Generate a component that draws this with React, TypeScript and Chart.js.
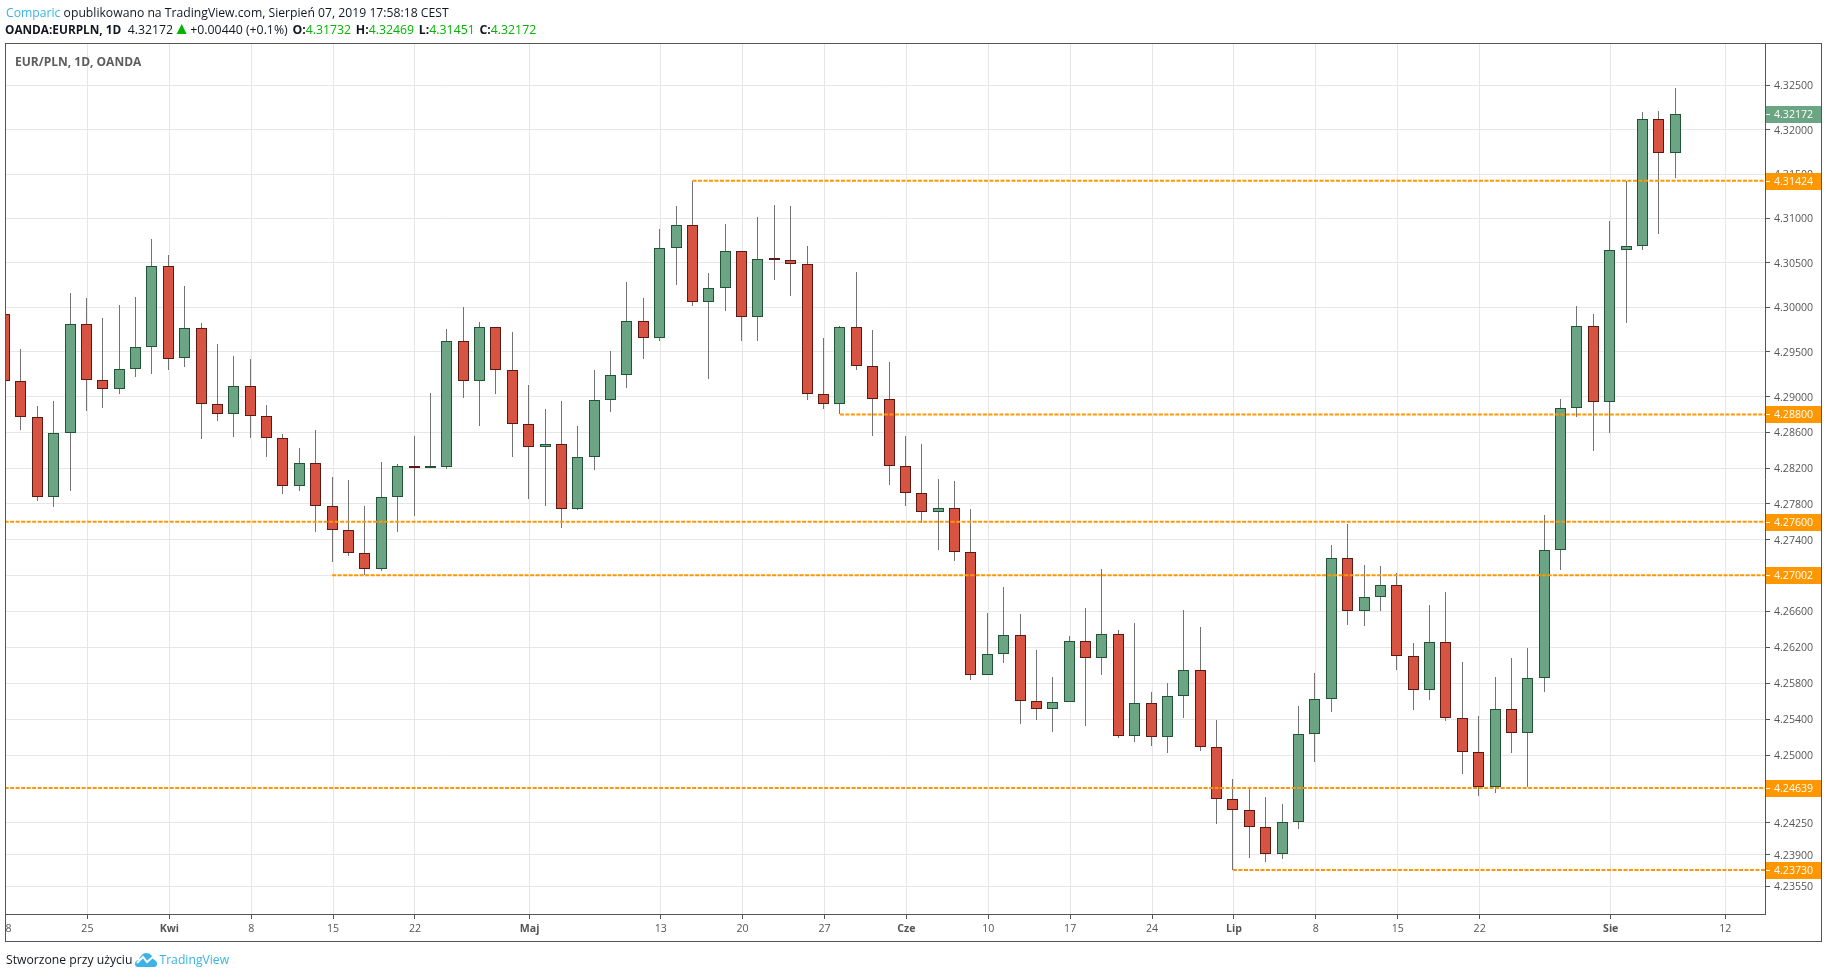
import { useEffect, useRef } from "react";
import { Chart, registerables } from "chart.js";
Chart.register(...registerables);

const FONT = '"Open Sans", sans-serif';
const UP = "#6ba583";
const DOWN = "#d75442";
const UP_BORDER = "#225437";
const DOWN_BORDER = "#5b1a13";
const WICK = "#737375";
const ORANGE = "#ff9800";
const FRAME = "#555555";

// daily bars, first one is 18 Mar 2019, last one is 7 Aug 2019
const opens = [
  4.29923, 4.29172, 4.28768, 4.27874, 4.2859, 4.2981, 4.29183, 4.29082, 4.29306, 4.29553,
  4.30462, 4.29429, 4.29766, 4.28914, 4.28802, 4.29115, 4.2878, 4.28534, 4.27997, 4.28254,
  4.27773, 4.27506, 4.27249, 4.2707, 4.27874, 4.2822, 4.28198, 4.28209, 4.2962, 4.29172,
  4.29777, 4.29295, 4.2869, 4.28433, 4.28466, 4.2774, 4.28321, 4.28959, 4.29239, 4.29844,
  4.29654, 4.30665, 4.30924, 4.30057, 4.30215, 4.30631, 4.29889, 4.30541, 4.3053, 4.30485,
  4.29026, 4.28914, 4.29777, 4.2934, 4.2897, 4.2822, 4.27918, 4.27706, 4.27751, 4.2726,
  4.2589, 4.26124, 4.26335, 4.25601, 4.25512, 4.2559, 4.26268, 4.26079, 4.26346, 4.25212,
  4.25579, 4.25201, 4.25657, 4.25945, 4.2509, 4.24513, 4.24391, 4.24203, 4.23904, 4.24258,
  4.25234, 4.25623, 4.27193, 4.26602, 4.26758, 4.26892, 4.26101, 4.25723, 4.26257, 4.25412,
  4.25034, 4.24646, 4.25512, 4.25246, 4.25857, 4.27282, 4.28869, 4.29788, 4.28936, 4.30642,
  4.30687, 4.32118, 4.31732,
];
const closes = [
  4.29172, 4.28768, 4.27874, 4.2859, 4.2981, 4.29183, 4.29082, 4.29306, 4.29553, 4.30462,
  4.29425, 4.29766, 4.28914, 4.28802, 4.29115, 4.2878, 4.28534, 4.27997, 4.28254, 4.27773,
  4.27506, 4.27249, 4.2707, 4.27874, 4.2822, 4.28198, 4.28209, 4.2962, 4.29172, 4.29777,
  4.29295, 4.2869, 4.28433, 4.28466, 4.2774, 4.28321, 4.28959, 4.29239, 4.29844, 4.29654,
  4.30665, 4.30924, 4.30057, 4.30215, 4.30631, 4.29889, 4.30541, 4.3053, 4.30485, 4.29026,
  4.28914, 4.29777, 4.2934, 4.2897, 4.2822, 4.27918, 4.27706, 4.27751, 4.2726, 4.2589,
  4.26124, 4.26335, 4.25601, 4.25512, 4.2559, 4.26268, 4.26079, 4.26346, 4.25212, 4.25579,
  4.25201, 4.25657, 4.25945, 4.2509, 4.24513, 4.24391, 4.24203, 4.23904, 4.24258, 4.25234,
  4.25623, 4.27193, 4.26602, 4.26758, 4.26892, 4.26101, 4.25723, 4.26257, 4.25412, 4.25034,
  4.24646, 4.25512, 4.25246, 4.25857, 4.27282, 4.28869, 4.29788, 4.28936, 4.30642, 4.30687,
  4.32118, 4.31732, 4.32172,
];
const highs = [
  4.2998, 4.2953, 4.28892, 4.28947, 4.30159, 4.30102, 4.29878, 4.30024, 4.30114, 4.30766,
  4.30586, 4.30237, 4.29822, 4.29586, 4.29452, 4.29418, 4.28903, 4.28578, 4.28422, 4.28623,
  4.28097, 4.28064, 4.27773, 4.28265, 4.28243, 4.28556, 4.29037, 4.29754, 4.3, 4.29833,
  4.29777, 4.29721, 4.29127, 4.28858, 4.28947, 4.28668, 4.29295, 4.29508, 4.30282, 4.30102,
  4.30879, 4.31137, 4.31424, 4.30384, 4.30935, 4.30631, 4.31014, 4.31149, 4.31137, 4.30687,
  4.29654, 4.29788, 4.30395, 4.29743, 4.29385, 4.28556, 4.28466, 4.28075, 4.28056, 4.2774,
  4.2658, 4.2687, 4.26569, 4.26168, 4.25868, 4.26324, 4.26636, 4.2707, 4.26391, 4.26469,
  4.25701, 4.25801, 4.26614, 4.26424, 4.2539, 4.24735, 4.24635, 4.24535, 4.24458, 4.25546,
  4.25912, 4.27338, 4.27573, 4.27115, 4.27104, 4.27026, 4.26246, 4.26669, 4.26814, 4.26035,
  4.25434, 4.25868, 4.26079, 4.2619, 4.27673, 4.2897, 4.30012, 4.29923, 4.30969, 4.31424,
  4.32197, 4.32208, 4.32469,
];
const lows = [
  4.2905, 4.2863, 4.27836, 4.27769, 4.27947, 4.28842, 4.28876, 4.29033, 4.29223, 4.29257,
  4.29302, 4.29335, 4.28529, 4.2873, 4.28551, 4.2854, 4.28328, 4.27914, 4.27947, 4.2749,
  4.27155, 4.27222, 4.27003, 4.27055, 4.2749, 4.27668, 4.28198, 4.28195, 4.28988, 4.28675,
  4.29033, 4.28328, 4.27858, 4.2778, 4.27535, 4.27735, 4.28182, 4.28831, 4.291, 4.29425,
  4.29627, 4.30252, 4.30016, 4.29197, 4.29963, 4.29627, 4.29627, 4.30312, 4.30132, 4.28965,
  4.28865, 4.288, 4.29302, 4.28563, 4.28015, 4.2778, 4.2759, 4.27289, 4.27166, 4.25841,
  4.2589, 4.2603, 4.25352, 4.25397, 4.25263, 4.2559, 4.2533, 4.25897, 4.25197, 4.25152,
  4.25108, 4.2503, 4.25419, 4.25052, 4.24243, 4.2373, 4.23867, 4.23822, 4.23856, 4.24187,
  4.2493, 4.25486, 4.26453, 4.26442, 4.26602, 4.25952, 4.25508, 4.25619, 4.25386, 4.24797,
  4.24553, 4.24586, 4.2503, 4.24646, 4.25708, 4.27066, 4.28775, 4.28395, 4.2859, 4.29822,
  4.30642, 4.30822, 4.31451,
];

const priceTicks = [
  4.325, 4.32, 4.315, 4.31, 4.305, 4.3, 4.295, 4.29, 4.286, 4.282, 4.278, 4.274, 4.27, 4.266,
  4.262, 4.258, 4.254, 4.25, 4.2425, 4.239, 4.2355,
];
const dateTickBars = [0, 5, 10, 15, 20, 25, 32, 40, 45, 50, 55, 60, 65, 70, 75, 80, 85, 90, 98, 105];
const dateTickLabels = [
  "18", "25", "Kwi", "8", "15", "22", "Maj", "13", "20", "27", "Cze", "10", "17", "24", "Lip", "8",
  "15", "22", "Sie", "12",
];
const monthLabels = ["Kwi", "Maj", "Cze", "Lip", "Sie"];

// horizontal levels: price and the bar each ray starts from
const levelPrices = [4.31424, 4.288, 4.276, 4.27002, 4.24639, 4.2373];
const levelStarts = [42, 51, -1, 20, -1, 75];

// keep candles and wicks on whole pixels so they stay crisp
const snapBarsPlugin = {
  id: "snapBars",
  afterDatasetsUpdate(chart: any) {
    chart.data.datasets.forEach((ds: any, i: number) => {
      if (ds.type === "line") return;
      chart.getDatasetMeta(i).data.forEach((bar: any) => {
        bar.x = Math.floor(bar.x) + 0.5;
        bar.y = Math.round(bar.y);
        bar.base = Math.round(bar.base);
      });
    });
  },
};

const priceLabelsPlugin = {
  id: "priceLabels",
  afterDraw(chart: any) {
    const { ctx, scales, chartArea } = chart;
    const y = scales.y;
    const tag = (value: number, color: string) => {
      const py = Math.round(y.getPixelForValue(value));
      ctx.fillStyle = color;
      ctx.fillRect(chartArea.right + 1, py - 8, 55, 17);
      ctx.fillStyle = "#ffffff";
      ctx.fillRect(chartArea.right + 1, py, 4, 1);
      ctx.font = `10.6px ${FONT}`;
      ctx.textAlign = "left";
      ctx.textBaseline = "middle";
      ctx.fillText(value.toFixed(5), chartArea.right + 9, py + 1);
    };
    levelPrices.forEach((p) => tag(p, ORANGE));
    tag(closes[closes.length - 1], UP);
    // the first date label is cut by the pane edge
    ctx.clearRect(0, 0, 6, chart.height);
  },
};

function App() {
  const canvasRef = useRef<HTMLCanvasElement>(null);

  useEffect(() => {
    if (!canvasRef.current) return;
    const isUp = closes.map((c, i) => c >= opens[i]);

    const chart = new Chart(canvasRef.current, {
      type: "bar",
      data: {
        datasets: [
          ...levelPrices.map((price, i) => ({
            type: "line" as const,
            data: [
              { x: levelStarts[i], y: price },
              { x: 108, y: price },
            ],
            borderColor: ORANGE,
            borderWidth: 2,
            borderDash: [4, 1.5],
            pointRadius: 0,
            order: 0,
          })),
          {
            data: opens.map((o, i) => ({ x: i, y: [o, closes[i]] })),
            backgroundColor: isUp.map((u) => (u ? UP : DOWN)),
            borderColor: isUp.map((u) => (u ? UP_BORDER : DOWN_BORDER)),
            borderWidth: 1,
            borderSkipped: false,
            inflateAmount: 0,
            barThickness: 11,
            minBarLength: 2,
            grouped: false,
            order: 1,
          },
          {
            data: lows.map((l, i) => ({ x: i, y: [l, highs[i]] })),
            backgroundColor: WICK,
            borderWidth: 0,
            inflateAmount: 0,
            barThickness: 1,
            grouped: false,
            order: 2,
          },
        ] as any,
      },
      options: {
        responsive: false,
        animation: false,
        events: [],
        layout: { padding: { left: 6, top: 44, right: 7, bottom: 37 } },
        plugins: { legend: { display: false }, tooltip: { enabled: false } },
        scales: {
          x: {
            type: "linear",
            min: 0.09,
            max: 107.48,
            offset: false,
            grid: { color: "#e6e6e6", tickColor: FRAME, tickLength: 5, offset: false },
            border: { color: FRAME },
            afterBuildTicks: (scale: any) => {
              scale.ticks = dateTickBars.map((value) => ({ value: value + 0.06 }));
            },
            afterFit: (scale: any) => {
              scale.height = 27;
              scale.paddingLeft = 0;
              scale.paddingRight = 0;
            },
            ticks: {
              autoSkip: false,
              maxRotation: 0,
              padding: 4,
              color: FRAME,
              font: (ctx: any) => ({
                family: FONT,
                size: 10.6,
                weight: monthLabels.includes(dateTickLabels[ctx.index]) ? "bold" : "normal",
              }),
              callback: (_v: any, index: number) => dateTickLabels[index],
            },
          },
          y: {
            type: "logarithmic",
            position: "right",
            bounds: "data",
            min: 4.23243,
            max: 4.32968,
            grid: { color: "#e6e6e6", tickColor: FRAME, tickLength: 5 },
            border: { color: FRAME },
            afterBuildTicks: (scale: any) => {
              scale.ticks = priceTicks.map((value) => ({ value }));
            },
            afterFit: (scale: any) => {
              scale.width = 56;
              scale.paddingTop = 0;
              scale.paddingBottom = 0;
            },
            ticks: {
              autoSkip: false,
              padding: 4,
              labelOffset: 1,
              color: FRAME,
              font: { family: FONT, size: 10.6 },
              callback: (value: any) => Number(value).toFixed(5),
            },
          } as any,
        },
      },
      plugins: [snapBarsPlugin, priceLabelsPlugin],
    } as any);

    return () => {
      chart.destroy();
    };
  }, []);

  const green = { color: "#00b400" };
  const group = { marginLeft: 1.5 };

  return (
    <div
      style={{
        position: "fixed",
        left: 0,
        top: 0,
        width: 1828,
        height: 978,
        background: "#ffffff",
        fontFamily: FONT,
        fontSize: 12.2,
        color: "#131722",
      }}
    >
      <canvas ref={canvasRef} width={1828} height={978} style={{ display: "block" }} />
      <div
        style={{
          position: "absolute",
          left: 5,
          top: 43,
          width: 1815,
          height: 897,
          border: `1px solid ${FRAME}`,
          pointerEvents: "none",
        }}
      />
      <div style={{ position: "absolute", left: 6, top: 4, whiteSpace: "nowrap" }}>
        <span style={{ color: "#3bb3e4" }}>Comparic</span> opublikowano na TradingView.com, Sierpień
        07, 2019 17:58:18 CEST
      </div>
      <div
        style={{
          position: "absolute",
          left: 5,
          top: 21,
          fontSize: 12.3,
          lineHeight: "17px",
          whiteSpace: "nowrap",
        }}
      >
        <b style={{ fontSize: 11.8 }}>OANDA:EURPLN, 1D</b>&nbsp; 4.32172{" "}
        <span style={{ ...green, fontSize: 17, lineHeight: 0, marginLeft: -3, marginRight: -3 }}>▲</span>{" "}
        +0.00440 (+0.1%){" "}
        <b style={group}>O:</b><span style={green}>4.31732</span> <b style={group}>H:</b>
        <span style={green}>4.32469</span> <b style={group}>L:</b><span style={green}>4.31451</span>{" "}
        <b style={group}>C:</b><span style={green}>4.32172</span>
      </div>
      <div
        style={{
          position: "absolute",
          left: 15,
          top: 53,
          fontSize: 12,
          fontWeight: 700,
          color: "#5d5d5d",
          whiteSpace: "nowrap",
        }}
      >
        EUR/PLN, 1D, OANDA
      </div>
      <div
        style={{
          position: "absolute",
          left: 6,
          top: 951,
          display: "flex",
          alignItems: "center",
          whiteSpace: "nowrap",
        }}
      >
        <span>Stworzone przy użyciu</span>
        <svg width="24" height="16" viewBox="0 0 24 16" style={{ margin: "0 1px 0 2px" }}>
          <path
            d="M1 12 C1 9 3 8 5 8 C6 4 9 1 12 1 C16 1 19 4 19 7 C22 8 23 10 23 12 C23 14 22 15 20 15 L4 15 C2 15 1 14 1 12 Z"
            fill="#3bb3e4"
          />
          <path d="M3 11 L9 5 L13 10 L20 4" stroke="#ffffff" strokeWidth="2" fill="none" />
        </svg>
        <span style={{ color: "#3bb3e4" }}>TradingView</span>
      </div>
    </div>
  );
}

export default App;
